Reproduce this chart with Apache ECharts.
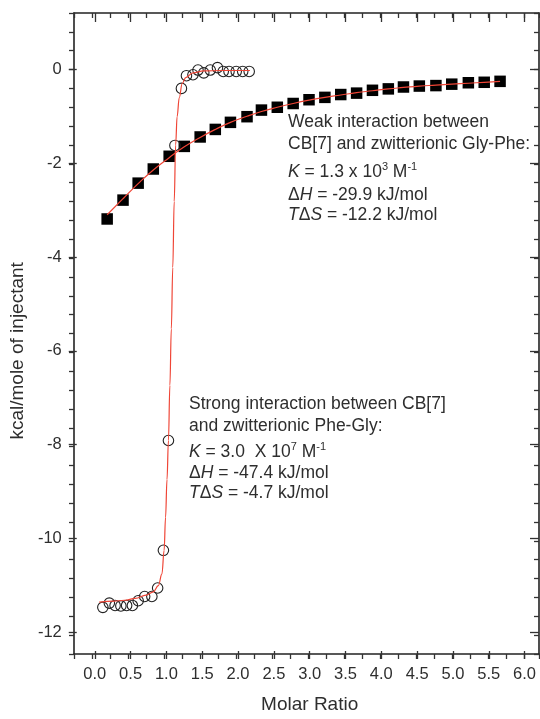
<!DOCTYPE html>
<html>
<head>
<meta charset="utf-8">
<script src="https://cdn.jsdelivr.net/npm/echarts@6/dist/echarts.min.js"></script>
<style>
  html, body { margin: 0; padding: 0; background: #fff; }
  #chart { width: 540px; height: 719px; }
</style>
</head>
<body>
<div id="chart"></div>
<script>
// Gly-Phe (weak binding) - filled squares
const glyPheRatio = [0.21, 0.43, 0.64, 0.85, 1.07, 1.28, 1.50, 1.71, 1.92, 2.15, 2.35, 2.57, 2.79,
  3.01, 3.23, 3.45, 3.67, 3.89, 4.11, 4.32, 4.54, 4.77, 4.99, 5.22, 5.44, 5.66];
const glyPheHeat = [-3.17, -2.77, -2.41, -2.11, -1.84, -1.63, -1.43, -1.27, -1.12, -1.00, -0.86, -0.80, -0.72,
  -0.64, -0.59, -0.53, -0.50, -0.44, -0.41, -0.37, -0.35, -0.34, -0.31, -0.28, -0.27, -0.25];
// fit curve for Gly-Phe
const glyPheFitRatio = [0.21, 0.43, 0.64, 0.85, 1.07, 1.28, 1.50, 1.71, 1.92, 2.15, 2.35, 2.57, 2.79,
  3.01, 3.23, 3.45, 3.67, 3.89, 4.11, 4.32, 4.54, 4.77, 4.99, 5.22, 5.44, 5.66];
const glyPheFitHeat = [-3.08, -2.74, -2.42, -2.13, -1.87, -1.64, -1.44, -1.27, -1.12, -0.99, -0.89, -0.80, -0.72,
  -0.65, -0.59, -0.54, -0.49, -0.45, -0.41, -0.38, -0.35, -0.33, -0.31, -0.29, -0.27, -0.25];

// Phe-Gly (strong binding) - open circles
const pheGlyRatio = [0.15, 0.24, 0.32, 0.40, 0.48, 0.56, 0.64, 0.73, 0.83, 0.91, 0.99, 1.06, 1.15,
  1.24, 1.31, 1.40, 1.47, 1.55, 1.64, 1.74, 1.82, 1.90, 2.00, 2.09, 2.18];
const pheGlyHeat = [-11.41, -11.32, -11.37, -11.38, -11.37, -11.37, -11.27, -11.18, -11.18, -11.00, -10.20, -7.87, -1.61,
  -0.40, -0.13, -0.11, -0.01, -0.07, -0.01, 0.04, -0.04, -0.04, -0.04, -0.04, -0.04];
// fit curve for Phe-Gly
const pheGlyFitRatio = [0.10, 0.30, 0.45, 0.60, 0.75, 0.85, 0.92, 0.97, 1.00, 1.02, 1.04, 1.06, 1.08,
  1.10, 1.12, 1.14, 1.16, 1.18, 1.21, 1.25, 1.30, 1.40, 1.55, 1.80, 2.19];
const pheGlyFitHeat = [-11.30, -11.28, -11.26, -11.22, -11.15, -11.08, -10.95, -10.70, -10.20, -9.50, -8.70, -7.87, -6.70,
  -5.50, -4.20, -2.80, -1.60, -1.00, -0.60, -0.30, -0.17, -0.07, -0.03, -0.02, -0.02];

// axis ranges and labelled ticks
const xRange = [-0.25, 6.2];
const yRange = [-12.4, 1.2];
const xLabelRange = [0, 6];     // labelled x ticks 0.0 ... 6.0 step 0.5
const yLabelRange = [-12, 0];   // labelled y ticks -12 ... 0 step 2

const FONT = '"Liberation Sans", Arial, Helvetica, sans-serif';
const TXT = '#2e2e2e';
const W = 540, H = 719;
const gridA = { left: 74, top: 13, right: 1, bottom: 65 };
const pxX = (W - gridA.left - gridA.right) / (xRange[1] - xRange[0]);
const pxY = (H - gridA.top - gridA.bottom) / (yRange[1] - yRange[0]);
// second grid covering only the labelled range (for long major ticks + labels)
const gridB = {
  left: gridA.left + (xLabelRange[0] - xRange[0]) * pxX,
  right: gridA.right + (xRange[1] - xLabelRange[1]) * pxX,
  top: gridA.top + (yRange[1] - yLabelRange[1]) * pxY,
  bottom: gridA.bottom + (yLabelRange[0] - yRange[0]) * pxY
};

const zip = (a, b) => a.map((v, i) => [v, b[i]]);
const axisLine = { show: true, onZero: false, lineStyle: { color: '#222', width: 1.6 } };
const noLine = { show: false, onZero: false };
const tickStyle = { color: '#333', width: 1.3 };

const minorX = (pos) => ({
  type: 'value', gridIndex: 0, position: pos, min: xRange[0], max: xRange[1], interval: 0.25,
  axisLine, axisTick: { show: true, inside: pos === 'top', length: 5, lineStyle: tickStyle },
  axisLabel: { show: false }, splitLine: { show: false }
});
const minorY = (pos) => ({
  type: 'value', gridIndex: 0, position: pos, min: yRange[0], max: yRange[1], interval: 0.4,
  axisLine, axisTick: { show: true, inside: pos === 'right', length: 5, lineStyle: tickStyle },
  axisLabel: { show: false }, splitLine: { show: false }
});

const chart = echarts.init(document.getElementById('chart'), null, { renderer: 'canvas' });

const richBase = {
  i: { fontStyle: 'italic', fontSize: 17.5, fontFamily: FONT, fill: TXT, lineHeight: 22 },
  sup: { fontSize: 11, fontFamily: FONT, fill: TXT, lineHeight: 12, verticalAlign: 'top' }
};
const textLine = (x, y, text) => ({
  type: 'text', x, y, silent: true,
  style: {
    text, fill: TXT, font: '17.5px ' + FONT, verticalAlign: 'middle', align: 'left',
    lineHeight: 22, rich: richBase
  }
});

const option = {
  backgroundColor: '#fff',
  animation: false,
  grid: [
    { left: gridA.left, top: gridA.top, right: gridA.right, bottom: gridA.bottom, containLabel: false },
    { left: gridB.left, top: gridB.top, right: gridB.right, bottom: gridB.bottom, containLabel: false }
  ],
  xAxis: [
    minorX('bottom'),
    minorX('top'),
    {
      type: 'value', gridIndex: 1, position: 'bottom', min: xLabelRange[0], max: xLabelRange[1], interval: 0.5,
      offset: (yLabelRange[0] - yRange[0]) * pxY,
      axisLine: noLine, axisTick: { show: true, length: 8, lineStyle: tickStyle },
      axisLabel: { show: true, margin: 15, fontSize: 16.5, fontFamily: FONT, color: TXT,
        formatter: v => v.toFixed(1) },
      splitLine: { show: false },
      name: 'Molar Ratio', nameLocation: 'middle', nameGap: 44,
      nameTextStyle: { fontSize: 19, fontFamily: FONT, color: TXT }
    },
    {
      type: 'value', gridIndex: 1, position: 'top', min: xLabelRange[0], max: xLabelRange[1], interval: 0.5,
      offset: (yRange[1] - yLabelRange[1]) * pxY,
      axisLine: noLine, axisTick: { show: true, inside: true, length: 9, lineStyle: tickStyle },
      axisLabel: { show: false }, splitLine: { show: false }
    }
  ],
  yAxis: [
    minorY('left'),
    minorY('right'),
    {
      type: 'value', gridIndex: 1, position: 'left', min: yLabelRange[0], max: yLabelRange[1], interval: 2,
      offset: (xLabelRange[0] - xRange[0]) * pxX,
      axisLine: noLine, axisTick: { show: true, length: 8, lineStyle: tickStyle },
      axisLabel: { show: true, margin: 15, fontSize: 16.5, fontFamily: FONT, color: TXT,
        formatter: v => String(v) },
      splitLine: { show: false },
      name: 'kcal/mole of injectant', nameLocation: 'middle', nameGap: 41,
      nameTextStyle: { fontSize: 19, fontFamily: FONT, color: TXT }
    },
    {
      type: 'value', gridIndex: 1, position: 'right', min: yLabelRange[0], max: yLabelRange[1], interval: 2,
      offset: (xRange[1] - xLabelRange[1]) * pxX,
      axisLine: noLine, axisTick: { show: true, inside: true, length: 9, lineStyle: tickStyle },
      axisLabel: { show: false }, splitLine: { show: false }
    }
  ],
  series: [
    {
      name: 'Gly-Phe', type: 'scatter', xAxisIndex: 0, yAxisIndex: 0,
      symbol: 'rect', symbolSize: 11.5, z: 2,
      itemStyle: { color: '#000', opacity: 1 },
      data: zip(glyPheRatio, glyPheHeat)
    },
    {
      name: 'Phe-Gly', type: 'scatter', xAxisIndex: 0, yAxisIndex: 0,
      symbol: 'circle', symbolSize: 10.5, z: 2,
      itemStyle: { color: 'rgba(255,255,255,0)', borderColor: '#222', borderWidth: 1.1, opacity: 1 },
      data: zip(pheGlyRatio, pheGlyHeat)
    },
    {
      name: 'Gly-Phe fit', type: 'line', xAxisIndex: 0, yAxisIndex: 0,
      smooth: true, showSymbol: false, z: 3,
      lineStyle: { color: '#ef4536', width: 1.2 },
      data: zip(glyPheFitRatio, glyPheFitHeat)
    },
    {
      name: 'Phe-Gly fit', type: 'line', xAxisIndex: 0, yAxisIndex: 0,
      smooth: 0.4, smoothMonotone: 'x', showSymbol: false, z: 3,
      lineStyle: { color: '#ef4536', width: 1.2 },
      data: zip(pheGlyFitRatio, pheGlyFitHeat)
    }
  ],
  graphic: [
    textLine(288, 122, 'Weak interaction between'),
    textLine(288, 144, 'CB[7] and zwitterionic Gly-Phe:'),
    textLine(288, 172, '{i|K} = 1.3 x 10{sup|3} M{sup|-1}'),
    textLine(288, 195, 'Δ{i|H} = -29.9 kJ/mol'),
    textLine(288, 215, '{i|T}Δ{i|S} = -12.2 kJ/mol'),
    textLine(189, 404, 'Strong interaction between CB[7]'),
    textLine(189, 426, 'and zwitterionic Phe-Gly:'),
    textLine(189, 452, '{i|K} = 3.0  X 10{sup|7} M{sup|-1}'),
    textLine(189, 473, 'Δ{i|H} = -47.4 kJ/mol'),
    textLine(189, 493, '{i|T}Δ{i|S} = -4.7 kJ/mol')
  ]
};

chart.setOption(option);
</script>
</body>
</html>
